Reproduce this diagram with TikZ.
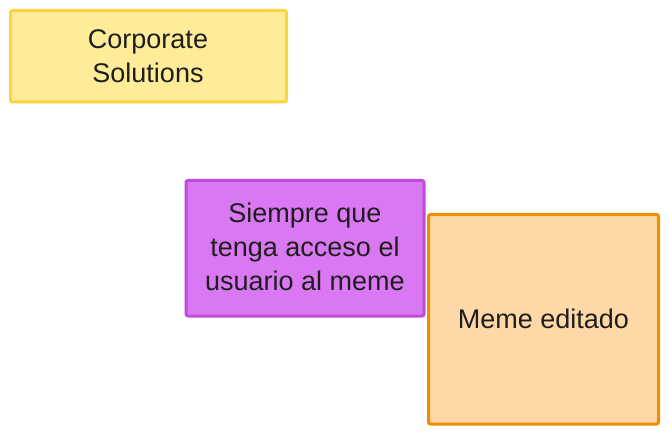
\documentclass[tikz,border=0pt]{standalone}
\usepackage{fontspec}
\setmainfont{Liberation Sans}
\definecolor{yfill}{HTML}{FFEC99}
\definecolor{ydraw}{HTML}{FCD440}
\definecolor{pfill}{HTML}{DA77F2}
\definecolor{pdraw}{HTML}{BE4BDB}
\definecolor{ofill}{HTML}{FFD8A8}
\definecolor{odraw}{HTML}{F08C00}
\definecolor{txt}{HTML}{1E1E1E}
\begin{document}
\begin{tikzpicture}[x=1bp,y=-1bp,
  boxstyle/.style={line width=3bp, rounded corners=2bp, line join=round},
  lbl/.style={align=center, text=txt, font=\fontsize{27bp}{34bp}\selectfont, inner sep=0pt}]
\useasboundingbox (0,0) rectangle (668,434);
\draw[boxstyle, fill=yfill, draw=ydraw] (10.5,10.5) rectangle (286.5,102) coordinate (ya);
\node[lbl] (yellow) at (148,56) {Corporate\\Solutions};
\draw[boxstyle, fill=pfill, draw=pdraw] (186,180.5) rectangle (424,316) coordinate (pa);
\node[lbl] (purple) at (305,247) {Siempre que\\tenga acceso el\\usuario al meme};
\draw[boxstyle, fill=ofill, draw=odraw] (428.5,214.5) rectangle (658.5,424) coordinate (oa);
\node[lbl] (orange) at (543.5,319) {Meme editado};
\end{tikzpicture}
\end{document}
